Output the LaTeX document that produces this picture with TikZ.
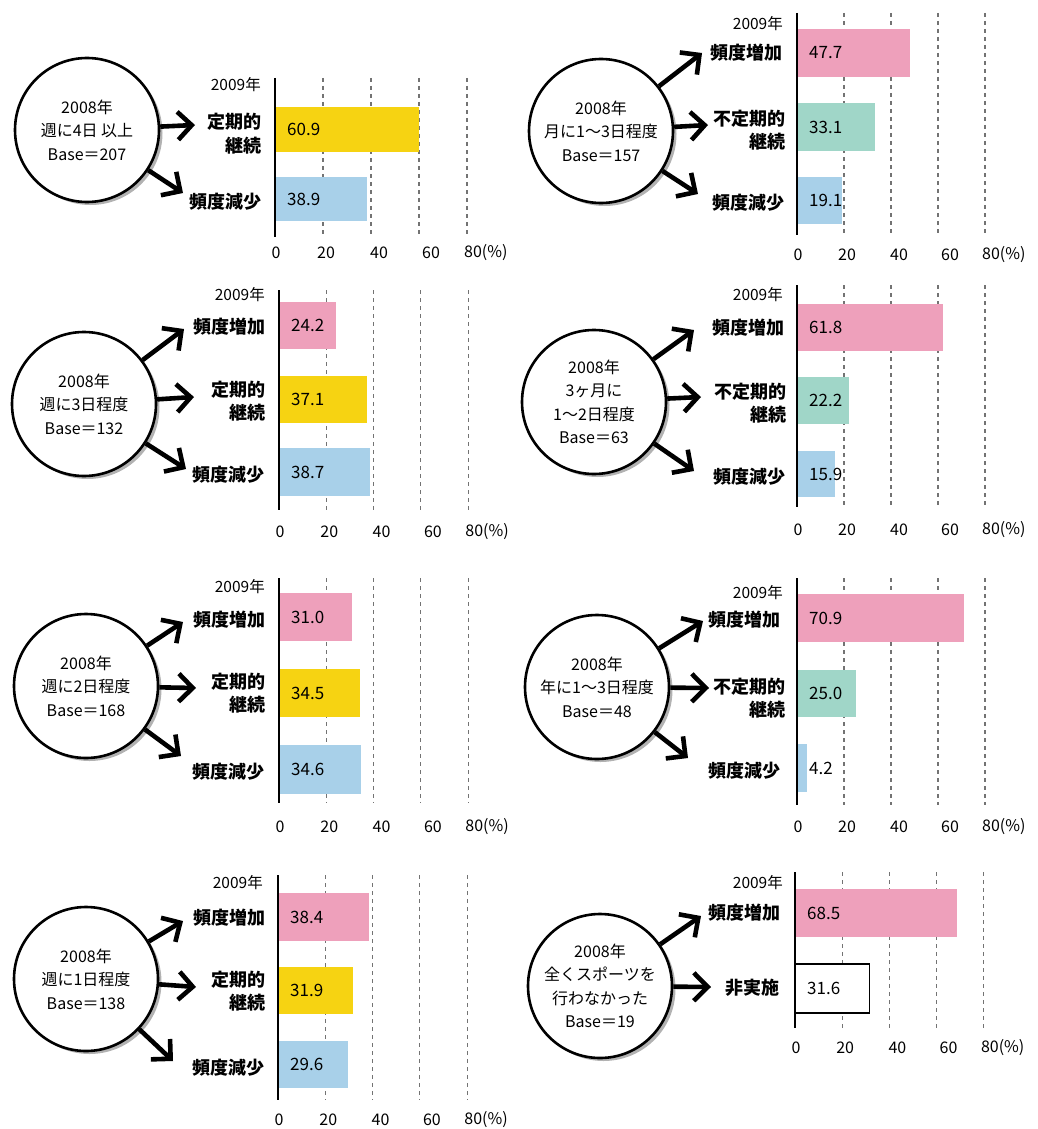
\documentclass[tikz,border=0pt]{standalone}
\usepackage{fontspec}
\setmainfont{Noto Sans CJK JP}
\usetikzlibrary{arrows.meta,shadows}
\definecolor{cYel}{RGB}{246,211,18}
\definecolor{cPink}{RGB}{238,160,187}
\definecolor{cTeal}{RGB}{160,214,200}
\definecolor{cBlue}{RGB}{168,208,233}
\tikzset{
  circ/.style={circle, draw, line width=2.6pt, fill=white, minimum size=144pt, inner sep=1pt, align=center,
    font=\fontsize{16}{23.5}\selectfont,
    drop shadow={shadow xshift=3.5pt, shadow yshift=-3pt, fill=black, opacity=.3}},
  lab/.style={anchor=east, align=right, inner sep=0pt, font=\fontsize{18}{23.5}\selectfont\bfseries},
  yr/.style={anchor=east, inner sep=0pt, font=\fontsize{15.5}{18}\selectfont},
  val/.style={anchor=west, inner sep=0pt, font=\fontsize{17}{20}\selectfont},
  tick/.style={inner sep=0pt, font=\fontsize{16}{20}\selectfont},
  gridl/.style={draw=black!55, line width=1.1pt, dash pattern=on 4pt off 4pt},
  axl/.style={draw=black, line width=2.4pt},
  arr/.style={line width=4.6pt, -{Straight Barb[length=14pt,width=28pt]}},
  yelbar/.style={fill=cYel},
  pinkbar/.style={fill=cPink},
  tealbar/.style={fill=cTeal},
  bluebar/.style={fill=cBlue},
  whitebar/.style={fill=white, draw=black, line width=1.4pt},
}
% grid + tick labels: #1 name, #2 axis x, #3 top, #4 bottom, #5 tick y, #6 spacing
\newcommand\gridP[6]{%
  \foreach \k in {1,...,4}{\draw[gridl] ({#2+#6*\k},#3) -- ({#2+#6*\k},#4);}
  \node[tick] (#1t0) at ({#2+1},#5) {0};
  \node[tick] (#1t20) at ({#2+#6+3},#5) {20};
  \node[tick] (#1t40) at ({#2+2*#6+8},#5) {40};
  \node[tick] (#1t60) at ({#2+3*#6+12},#5) {60};
  \node[tick, anchor=west] (#1t80) at ({#2+4*#6-3},#5) {80(\%)};
}
% bar: #1 name, #2 axis x, #3 y1, #4 y2, #5 value, #6 style
\newcommand\barH[6]{%
  \path[#6] (#2,#3) rectangle ({#2+2.36*#5},#4);
  \node[val] (#1) at ({#2+12},{(#3+#4)/2}) {#5};
}
\newcommand\axisP[3]{\draw[axl] (#1,#2) -- (#1,#3);}

\begin{document}
\begin{tikzpicture}[x=1pt,y=-1pt]
\useasboundingbox (0,0) rectangle (1037,1129);

% ================= Panel 1 =================
\gridP{p1}{275}{78}{237}{253}{48}
\barH{p1v1}{275}{107}{152}{60.9}{yelbar}
\barH{p1v2}{275}{177}{221}{38.9}{bluebar}
\axisP{275}{78}{237}
\node[yr] (p1y) at (261,85) {2009年};
\node[lab] (p1l1) at (262,133.5) {定期的\\継続};
\node[lab] (p1l2) at (262,202) {頻度減少};
\node[circ] (c1) at (87,130) {2008年\\週に4日 以上\\Base＝207};
\coordinate (p1a2) at (195,125);
\coordinate (p1a3) at (183,193);
\draw[arr] (c1) -- (p1a2);
\draw[arr] (c1) -- (p1a3);

% ================= Panel 2 =================
\gridP{p2}{797}{13}{235}{255}{47}
\barH{p2v1}{797}{29}{77}{47.7}{pinkbar}
\barH{p2v2}{797}{103}{151}{33.1}{tealbar}
\barH{p2v3}{797}{177}{224}{19.1}{bluebar}
\axisP{797}{13}{235}
\node[yr] (p2y) at (783,24) {2009年};
\node[lab] (p2l1) at (783,53) {頻度増加};
\node[lab] (p2l2) at (786,130) {不定期的\\継続};
\node[lab] (p2l3) at (785,203) {頻度減少};
\node[circ] (c2) at (601,131) {2008年\\月に1〜3日程度\\Base＝157};
\coordinate (p2a1) at (702,53);
\coordinate (p2a2) at (708,125);
\coordinate (p2a3) at (698,194);
\draw[arr] (c2) -- (p2a1);
\draw[arr] (c2) -- (p2a2);
\draw[arr] (c2) -- (p2a3);

% ================= Panel 3 =================
\gridP{p3}{279}{290}{510}{532}{47.3}
\barH{p3v1}{279}{302}{349}{24.2}{pinkbar}
\barH{p3v2}{279}{376}{423}{37.1}{yelbar}
\barH{p3v3}{279}{448}{496}{38.7}{bluebar}
\axisP{279}{290}{510}
\node[yr] (p3y) at (265,295) {2009年};
\node[lab] (p3l1) at (266,327) {頻度増加};
\node[lab] (p3l2) at (266,401) {定期的\\継続};
\node[lab] (p3l3) at (265,475) {頻度減少};
\node[circ] (c3) at (84,404) {2008年\\週に3日程度\\Base＝132};
\coordinate (p3a1) at (184,329);
\coordinate (p3a2) at (194,397);
\coordinate (p3a3) at (186,469);
\draw[arr] (c3) -- (p3a1);
\draw[arr] (c3) -- (p3a2);
\draw[arr] (c3) -- (p3a3);

% ================= Panel 4 =================
\gridP{p4}{797}{285}{507}{530}{47}
\barH{p4v1}{797}{304}{351}{61.8}{pinkbar}
\barH{p4v2}{797}{377}{424}{22.2}{tealbar}
\barH{p4v3}{797}{451}{497}{15.9}{bluebar}
\axisP{797}{285}{507}
\node[yr] (p4y) at (783,295) {2009年};
\node[lab] (p4l1) at (785,328) {頻度増加};
\node[lab] (p4l2) at (787,403) {不定期的\\継続};
\node[lab] (p4l3) at (786,477) {頻度減少};
\node[circ] (c4) at (594,402) {2008年\\3ヶ月に\\1〜2日程度\\Base＝63};
\coordinate (p4a1) at (694,330);
\coordinate (p4a2) at (701,397);
\coordinate (p4a3) at (694,471);
\draw[arr] (c4) -- (p4a1);
\draw[arr] (c4) -- (p4a2);
\draw[arr] (c4) -- (p4a3);

% ================= Panel 5 =================
\gridP{p5}{279}{578}{803}{827}{47.3}
\barH{p5v1}{279}{593}{641}{31.0}{pinkbar}
\barH{p5v2}{279}{669}{717}{34.5}{yelbar}
\barH{p5v3}{279}{745}{794}{34.6}{bluebar}
\axisP{279}{578}{803}
\node[yr] (p5y) at (265,587) {2009年};
\node[lab] (p5l1) at (266,620) {頻度増加};
\node[lab] (p5l2) at (266,693) {定期的\\継続};
\node[lab] (p5l3) at (265,772) {頻度減少};
\node[circ] (c5) at (86,686) {2008年\\週に2日程度\\Base＝168};
\coordinate (p5a1) at (183,622);
\coordinate (p5a2) at (196,688);
\coordinate (p5a3) at (181,756);
\draw[arr] (c5) -- (p5a1);
\draw[arr] (c5) -- (p5a2);
\draw[arr] (c5) -- (p5a3);

% ================= Panel 6 =================
\gridP{p6}{797}{578}{805}{827}{47}
\barH{p6v1}{797}{594}{642}{70.9}{pinkbar}
\barH{p6v2}{797}{670}{717}{25.0}{tealbar}
\barH{p6v3}{797}{744}{792}{4.2}{bluebar}
\axisP{797}{578}{805}
\node[yr] (p6y) at (783,593) {2009年};
\node[lab] (p6l1) at (781,620) {頻度増加};
\node[lab] (p6l2) at (786,698) {不定期的\\継続};
\node[lab] (p6l3) at (781,771) {頻度減少};
\node[circ] (c6) at (597,687) {2008年\\年に1〜3日程度\\Base＝48};
\coordinate (p6a1) at (703,621);
\coordinate (p6a2) at (709,688);
\coordinate (p6a3) at (688,758);
\draw[arr] (c6) -- (p6a1);
\draw[arr] (c6) -- (p6a2);
\draw[arr] (c6) -- (p6a3);

% ================= Panel 7 =================
\gridP{p7}{278}{875}{1100}{1120}{47.3}
\barH{p7v1}{278}{893}{941}{38.4}{pinkbar}
\barH{p7v2}{278}{967}{1014}{31.9}{yelbar}
\barH{p7v3}{278}{1041}{1088}{29.6}{bluebar}
\axisP{278}{875}{1100}
\node[yr] (p7y) at (263,883) {2009年};
\node[lab] (p7l1) at (266,918) {頻度増加};
\node[lab] (p7l2) at (266,991) {定期的\\継続};
\node[lab] (p7l3) at (265,1068) {頻度減少};
\node[circ] (c7) at (86,979) {2008年\\週に1日程度\\Base＝138};
\coordinate (p7a1) at (183,921);
\coordinate (p7a2) at (196,987);
\coordinate (p7a3) at (173,1061);
\draw[arr] (c7) -- (p7a1);
\draw[arr] (c7) -- (p7a2);
\draw[arr] (c7) -- (p7a3);

% ================= Panel 8 =================
\gridP{p8}{795}{872}{1028}{1048}{47.2}
\barH{p8v1}{795}{889}{937}{68.5}{pinkbar}
\barH{p8v2}{795}{964}{1013}{31.6}{whitebar}
\axisP{795}{872}{1028}
\node[yr] (p8y) at (783,883) {2009年};
\node[lab] (p8l1) at (781,913) {頻度増加};
\node[lab] (p8l2) at (780,988) {非実施};
\node[circ] (c8) at (600,986) {2008年\\全くスポーツを\\行わなかった\\Base＝19};
\coordinate (p8a1) at (701,916);
\coordinate (p8a2) at (711,987);
\draw[arr] (c8) -- (p8a1);
\draw[arr] (c8) -- (p8a2);
\end{tikzpicture}
\end{document}
